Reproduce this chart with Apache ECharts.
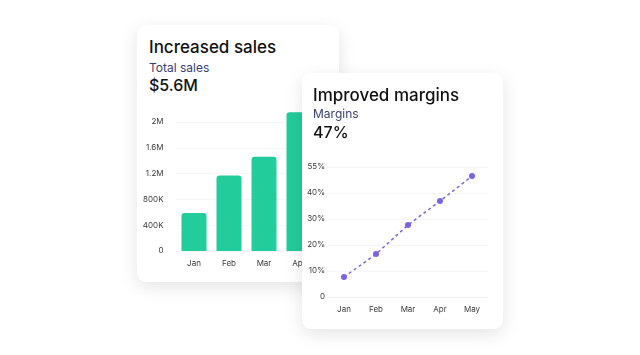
<!DOCTYPE html>
<html>
<head>
<meta charset="utf-8">
<script src="https://cdn.jsdelivr.net/npm/echarts@6/dist/echarts.min.js"></script>
<style>
  body { margin: 0; width: 640px; height: 355px; background: #fff; font-family: Inter, 'Noto Sans', sans-serif; overflow: hidden; }
  .card { position: absolute; background: #fff; border-radius: 9px; box-shadow: 0 5px 18px rgba(0,0,0,0.11); }
  .chart { position: absolute; left: 0; top: 0; width: 100%; height: 100%; }
  .title { position: absolute; left: 12px; font-size: 17px; line-height: 20px; color: #111; font-weight: 500; }
  .sub { position: absolute; left: 12px; font-size: 12px; line-height: 14px; color: #3a4070; }
  .big { position: absolute; left: 12px; font-size: 16px; line-height: 18px; color: #111; font-weight: 500; }
</style>
</head>
<body>
<div class="card" id="salesCard" style="left:137px; top:25px; width:202px; height:257px;">
  <div class="title" style="top:12px;">Increased sales</div>
  <div class="sub" style="top:36px;">Total sales</div>
  <div class="big" style="top:51px;">$5.6M</div>
  <div class="chart" id="sales"></div>
</div>
<div class="card" id="marginCard" style="left:302px; top:73px; width:201px; height:256px;">
  <div class="title" style="top:12px; left:11px;">Improved margins</div>
  <div class="sub" style="top:34px; left:11px;">Margins</div>
  <div class="big" style="top:50px; left:11px;">47%</div>
  <div class="chart" id="margins"></div>
</div>
<script>
// 数据
const salesMonths = ['Jan', 'Feb', 'Mar', 'Apr']
const salesValues = [590000, 1170000, 1460000, 2150000]
const salesTicks = ['0', '400K', '800K', '1.2M', '1.6M', '2M']

const marginMonths = ['Jan', 'Feb', 'Mar', 'Apr', 'May']
const marginValues = [7.7, 16.5, 27.7, 36.9, 46.5]
const marginTicks = ['0', '10%', '20%', '30%', '40%', '55%']

const labelStyle = { fontSize: 8, color: '#3a3a3a', fontFamily: 'Inter, sans-serif' }

// 柱状图
const salesChart = echarts.init(document.getElementById('sales'))
salesChart.setOption({
  animation: false,
  grid: { left: 39.5, top: 97, width: 140, height: 129 },
  xAxis: {
    type: 'category',
    data: salesMonths,
    axisLine: { show: false },
    axisTick: { show: false },
    axisLabel: { ...labelStyle, margin: 9 }
  },
  yAxis: {
    type: 'value',
    min: 0,
    max: 2000000,
    interval: 400000,
    axisLabel: { ...labelStyle, margin: 13, formatter: (v) => salesTicks[Math.round(v / 400000)] },
    splitLine: { lineStyle: { color: '#f6f6f8' } }
  },
  series: [
    {
      type: 'bar',
      data: salesValues,
      barWidth: 25,
      clip: false,
      itemStyle: { color: '#22cc9b', borderRadius: [3, 3, 0, 0] }
    }
  ]
})

// 折线图
const marginChart = echarts.init(document.getElementById('margins'))
marginChart.setOption({
  animation: false,
  grid: { left: 26, top: 94, width: 160, height: 130 },
  xAxis: {
    type: 'category',
    data: marginMonths,
    axisLine: { lineStyle: { color: '#f4f4f6' } },
    axisTick: { show: false },
    axisLabel: { ...labelStyle, margin: 9 }
  },
  yAxis: {
    type: 'value',
    min: 0,
    max: 50,
    interval: 10,
    axisLabel: { ...labelStyle, margin: 3, formatter: (v) => marginTicks[Math.round(v / 10)] },
    splitLine: { lineStyle: { color: '#f6f6f8' } }
  },
  series: [
    {
      type: 'line',
      data: marginValues,
      symbol: 'circle',
      symbolSize: 6,
      itemStyle: { color: '#7b62e3' },
      lineStyle: { color: '#7b62e3', width: 1.5, type: [3, 3] }
    }
  ]
})
</script>
</body>
</html>
